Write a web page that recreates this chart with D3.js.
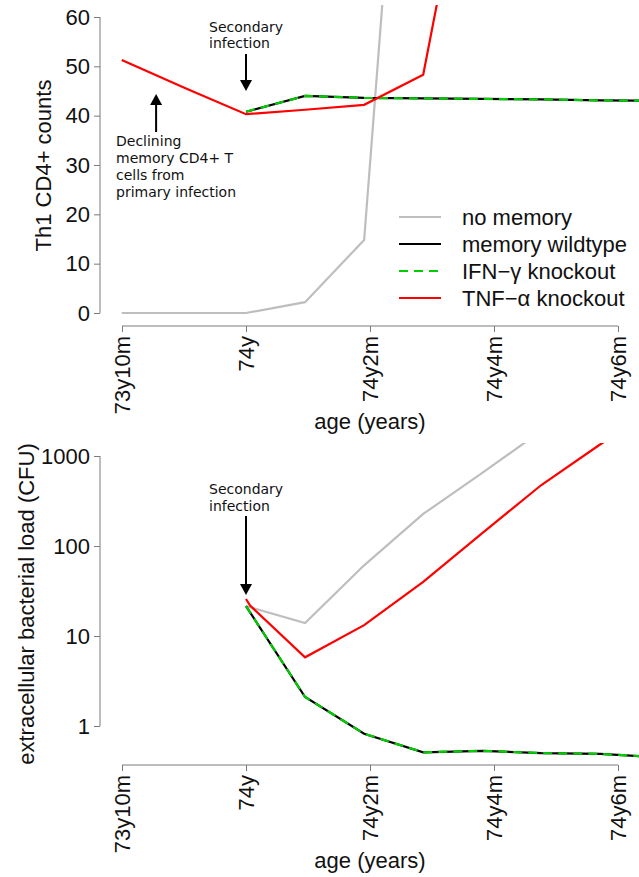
<!DOCTYPE html>
<html>
<head>
<meta charset="utf-8">
<script src="https://cdn.jsdelivr.net/npm/d3@7"></script>
<style>
	body { margin:0; background:#fff; }
	svg { display:block; }
	text { font-family:"Liberation Sans", Arial, sans-serif; }
	.axis path, .axis line { stroke:#7a7a7a; }
	.axis text { font-size:22px; fill:#111; }
	.note { font-family:"DejaVu Sans", sans-serif; font-size:14px; fill:#111; }
</style>
</head>
<body>
<div id="player"></div>
<script>

// x axis: months since 74y
var tickMonths = [-2, 0, 2, 4, 6];
var tickLabels = ["73y10m", "74y", "74y2m", "74y4m", "74y6m"];
var daysPerMonth = 30.44;

// top panel: Th1 CD4+ counts (days since secondary infection)
var th1Days       = [-61, -30, 0, 29, 58, 87, 116, 145, 174, 203];
var th1NoMemory   = [0, 0, 0, 2.2, 14.8, 170, null, null, null, null];
var th1Wildtype   = [null, null, 40.8, 44.0, 43.6, 43.5, 43.4, 43.3, 43.1, 43.0];
var th1IfngKO     = [null, null, 40.8, 44.0, 43.6, 43.5, 43.4, 43.3, 43.1, 43.0];
var th1TnfKO      = [51.3, 45.6, 40.3, 41.2, 42.2, 48.3, 110, null, null, null];
var th1Ticks      = [0, 10, 20, 30, 40, 50, 60];

// bottom panel: extracellular bacterial load
var cfuDays       = [0, 2, 29, 58, 87, 116, 145, 174, 203];
var cfuNoMemory   = [21.5, null, 13.9, 61, 227, 650, 1900, null, null];
var cfuWildtype   = [21.5, null, 2.1, 0.82, 0.51, 0.53, 0.50, 0.49, 0.45];
var cfuIfngKO     = [21.5, null, 2.1, 0.82, 0.51, 0.53, 0.50, 0.49, 0.45];
var cfuTnfKO      = [25.8, 21.8, 5.8, 13.2, 40, 139, 476, 1350, 3500];
var cfuTicks      = [1, 10, 100, 1000];

var legendNames = ["no memory", "memory wildtype", "IFN\u2212\u03b3 knockout", "TNF\u2212\u03b1 knockout"];

var styles = [
	{color:"#bebebe", dash:null},
	{color:"#000000", dash:null},
	{color:"#00cd00", dash:"9,6"},
	{color:"#ff0000", dash:null}
];

var W = 639, H = 877;
var svg = d3.select("#player").append("svg")
	.attr("width", W)
	.attr("height", H);

// shared x scale
var x = d3.scaleLinear().domain([-2, 6]).range([122, 618]);

function makeSeries(days, values){
	var pts = [];
	days.forEach(function(d, i){
		if(values[i] !== null) pts.push({t: d/daysPerMonth, v: values[i]});
	});
	return pts;
}

function drawPanel(cfg){

	var g = svg.append("g");
	var y = cfg.y;

	// clip to plot region
	g.append("clipPath").attr("id", cfg.id)
		.append("rect")
		.attr("x", 102).attr("y", cfg.top)
		.attr("width", W - 102).attr("height", cfg.bottom - cfg.top);

	// y axis
	var yAxis = g.append("g").attr("class", "axis")
		.attr("transform", "translate(100,0)")
		.call(d3.axisLeft(y).tickValues(cfg.ticks).tickSize(6).tickPadding(4).tickFormat(d3.format("d")));
	yAxis.select(".domain").attr("d", "M0," + y(cfg.ticks[0]) + "V" + y(cfg.ticks[cfg.ticks.length-1]));

	// x axis
	var xAxis = g.append("g").attr("class", "axis")
		.attr("transform", "translate(0," + cfg.bottom + ")")
		.call(d3.axisBottom(x).tickValues(tickMonths).tickSize(6)
			.tickFormat(function(d, i){ return tickLabels[i]; }));
	xAxis.select(".domain").attr("d", "M" + x(-2) + ",0H" + x(6));
	xAxis.selectAll(".tick text")
		.attr("transform", "rotate(-90)")
		.attr("x", -10).attr("y", 0)
		.attr("dy", "0.35em")
		.style("text-anchor", "end");

	// axis titles
	g.append("text")
		.attr("transform", "translate(" + cfg.ylabX + "," + ((cfg.top + cfg.bottom)/2) + ") rotate(-90)")
		.style("text-anchor", "middle")
		.style("font-size", "22px")
		.style("fill", "#111")
		.text(cfg.ylab);
	g.append("text")
		.attr("x", (x(-2) + x(6))/2)
		.attr("y", cfg.bottom + 103)
		.style("text-anchor", "middle")
		.style("font-size", "22px")
		.style("fill", "#111")
		.text("age (years)");

	// lines
	var line = d3.line()
		.x(function(d){ return x(d.t); })
		.y(function(d){ return y(d.v); });

	var lineG = g.append("g").attr("clip-path", "url(#" + cfg.id + ")");
	cfg.series.forEach(function(s, i){
		lineG.append("path")
			.attr("d", line(s))
			.attr("fill", "none")
			.attr("stroke", styles[i].color)
			.attr("stroke-width", 2.2)
			.attr("stroke-dasharray", styles[i].dash);
	});

	return g;
}

function arrow(g, x0, yFrom, yTo){
	var dir = yTo > yFrom ? 1 : -1;
	g.append("line")
		.attr("x1", x0).attr("x2", x0)
		.attr("y1", yFrom).attr("y2", yTo - dir*8)
		.attr("stroke", "#000").attr("stroke-width", 2);
	g.append("path")
		.attr("d", "M" + (x0-6) + "," + (yTo - dir*11) + "L" + (x0+6) + "," + (yTo - dir*11) + "L" + x0 + "," + yTo + "Z")
		.attr("fill", "#000");
}

function note(g, lines, x0, y0, step){
	var t = g.append("text").attr("class", "note");
	lines.forEach(function(s, i){
		t.append("tspan").attr("x", x0).attr("y", y0 + i*step).text(s);
	});
}

// TOP PANEL
var yTop = d3.scaleLinear().domain([0, 60]).range([313, 17]);
var topPanel = drawPanel({
	id: "clipTop", y: yTop, top: 5, bottom: 326, ticks: th1Ticks,
	ylab: "Th1 CD4+ counts", ylabX: 51,
	series: [
		makeSeries(th1Days, th1NoMemory),
		makeSeries(th1Days, th1Wildtype),
		makeSeries(th1Days, th1IfngKO),
		makeSeries(th1Days, th1TnfKO)
	]
});
note(topPanel, ["Secondary", "infection"], 209, 32, 16);
arrow(topPanel, x(0), 54, 91);
note(topPanel, ["Declining", "memory CD4+ T", "cells from", "primary infection"], 116, 146, 17);
arrow(topPanel, x(-1.45), 132, 94);

// legend
var legend = topPanel.append("g");
legendNames.forEach(function(name, i){
	var ly = 217 + i*27;
	legend.append("line")
		.attr("x1", 399).attr("x2", 441)
		.attr("y1", ly).attr("y2", ly)
		.attr("stroke", styles[i].color)
		.attr("stroke-width", 2.2)
		.attr("stroke-dasharray", styles[i].dash);
	legend.append("text")
		.attr("x", 462).attr("y", ly)
		.attr("dy", "0.35em")
		.style("font-size", "22px")
		.style("fill", "#111")
		.text(name);
});

// BOTTOM PANEL
var yBot = d3.scaleLog().domain([1, 1000]).range([726, 456]);
var botPanel = drawPanel({
	id: "clipBot", y: yBot, top: 443, bottom: 765, ticks: cfuTicks,
	ylab: "extracellular bacterial load (CFU)", ylabX: 34,
	series: [
		makeSeries(cfuDays, cfuNoMemory),
		makeSeries(cfuDays, cfuWildtype),
		makeSeries(cfuDays, cfuIfngKO),
		makeSeries(cfuDays, cfuTnfKO)
	]
});
note(botPanel, ["Secondary", "infection"], 209, 494, 17);
arrow(botPanel, x(0), 516, 595);

</script>
</body>
</html>
